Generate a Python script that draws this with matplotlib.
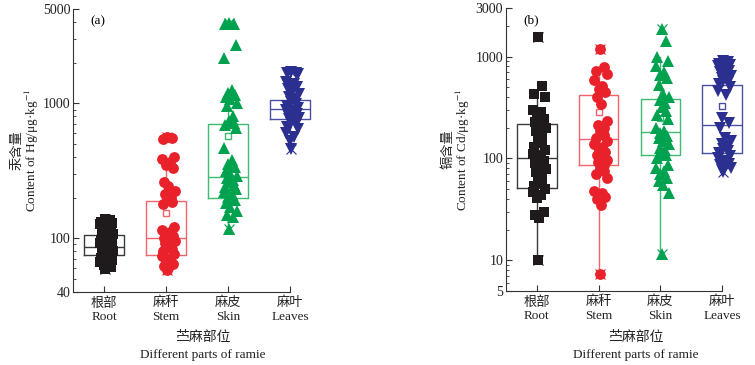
import matplotlib
matplotlib.use("Agg")
import matplotlib.pyplot as plt
from matplotlib import ticker as mticker

plt.rcParams['font.family'] = ['Liberation Serif', 'Noto Sans CJK SC', 'DejaVu Sans']
plt.rcParams['mathtext.fontset'] = 'stix'
plt.rcParams['font.size'] = 9

parts_cn = ['根部', '麻秆', '麻皮', '麻叶']
parts_en = ['Root', 'Stem', 'Skin', 'Leaves']

# Hg content (panel a), ug/kg
hg_root = [138, 136, 133, 130, 127, 124, 120, 117, 114, 111, 108, 105, 103, 101, 99, 97, 95,
           93, 91, 89, 87, 85, 83, 81, 79, 77, 75, 73, 71, 69, 67, 65, 63, 61, 59]
hg_stem = [560, 550, 540, 400, 385, 370, 350, 330, 262, 245, 225, 212, 198, 192, 185, 178,
           122, 116, 112, 108, 104, 101, 98, 95, 92, 89, 86, 83, 80, 77, 74, 71, 68, 65, 62, 60, 58]
hg_skin = [3950, 3900, 3850, 2700, 2150, 1250, 1200, 1150, 1120, 1080, 1000, 950, 800, 740,
           720, 690, 660, 470, 380, 355, 335, 315, 300, 290, 280, 270, 260, 250, 240, 230,
           222, 212, 202, 192, 182, 170, 160, 150, 145, 118]
hg_leaves = [1700, 1690, 1670, 1650, 1450, 1400, 1360, 1320, 1270, 1220, 1170, 1120, 1070,
             1020, 990, 960, 930, 900, 880, 860, 840, 820, 800, 780, 760, 740, 720, 700, 670,
             640, 600, 560, 530, 455]
hg_q1 = [75, 75, 198, 761]
hg_med = [86, 100, 283, 903]
hg_q3 = [105, 188, 700, 1052]
hg_mean = [92, 153, 570, 930]
hg_wlo = [59, 58, 118, 455]
hg_whi = [138, 330, 1250, 1450]

# Cd content (panel b), ug/kg
cd_root = [1550, 510, 425, 400, 300, 285, 265, 245, 228, 215, 200, 185, 170, 155, 142, 130,
           120, 110, 105, 100, 95, 90, 84, 78, 73, 68, 63, 58, 54, 50, 47, 44, 41, 30, 28, 26, 10]
cd_stem = [1200, 790, 720, 680, 590, 520, 480, 445, 400, 340, 235, 215, 200, 185, 170, 160,
           150, 140, 130, 122, 115, 108, 102, 97, 92, 87, 81, 76, 70, 65, 48, 46, 44, 42, 40,
           35, 7.4]
cd_skin = [1870, 1410, 1000, 900, 800, 700, 660, 610, 530, 430, 400, 375, 350, 320, 295, 270,
           245, 200, 188, 178, 168, 158, 148, 138, 128, 120, 114, 108, 100, 86, 80, 75, 70, 65,
           60, 55, 46, 11.5]
cd_leaves = [900, 880, 850, 820, 800, 780, 750, 720, 700, 680, 650, 620, 600, 580, 560, 540,
             500, 460, 420, 250, 225, 200, 160, 150, 140, 132, 125, 118, 112, 106, 100, 95, 92,
             89, 86, 83, 80, 77, 74]
cd_q1 = [51, 87, 107, 112]
cd_med = [100, 157, 181, 214]
cd_q3 = [219, 417, 385, 528]
cd_mean = [130, 283, 250, 331]
cd_wlo = [10, 7.4, 11.5, 74]
cd_whi = [425, 790, 1000, 900]

colors = ['#1f1b1c', '#e8212a', '#00a24f', '#2b2f8f']
box_colors = ['#3a3a3a', '#f0646a', '#3dbb70', '#4a4fa3']
markers = ['s', 'o', '^', 'v']
msizes = [7.0, 7.8, 8.4, 8.4]
JITTER = [0.02, 0.09, -0.05, 0.13, -0.07, 0.06, 0.0, 0.11, -0.03, 0.04, 0.14, -0.01, 0.08]


def draw(ax, groups, q1, med, q3, mean, wlo, whi):
    for i, vals in enumerate(groups):
        pos = i + 1
        bc = box_colors[i]
        st = [dict(q1=q1[i], med=med[i], q3=q3[i], whislo=wlo[i], whishi=whi[i],
                   mean=mean[i], fliers=[])]
        ax.bxp(st, positions=[pos], widths=0.64, showmeans=True, showcaps=False,
               showfliers=False, manage_ticks=False, zorder=2,
               boxprops=dict(color=bc, linewidth=1.0),
               medianprops=dict(color=bc, linewidth=1.0),
               whiskerprops=dict(color=bc, linewidth=1.0),
               meanprops=dict(marker='s', markerfacecolor='white', markeredgecolor=bc,
                              markersize=4.5, markeredgewidth=1.0, linestyle='none'))
        xs = [pos + JITTER[k % len(JITTER)] for k in range(len(vals))]
        xs[0] = pos + 0.02
        xs[-1] = pos + 0.02
        ax.plot(xs, vals, ls='none', marker=markers[i], ms=msizes[i], color=colors[i],
                mew=0, zorder=3)
        ax.plot([pos + 0.02, pos + 0.02], [min(vals), max(vals)], ls='none', marker='x',
                ms=6.5, mew=0.8, color=colors[i], zorder=4)

    ax.set_yscale('log')
    ax.set_xlim(0.5, 4.5)
    ax.spines['top'].set_visible(False)
    ax.spines['right'].set_visible(False)
    ax.spines['bottom'].set_bounds(0.5, 4)
    for s in ['left', 'bottom']:
        ax.spines[s].set_linewidth(0.8)
        ax.spines[s].set_color('#333333')
    ax.set_xticks([1, 2, 3, 4])
    ax.set_xticklabels([f"{c}\n{e}" for c, e in zip(parts_cn, parts_en)], linespacing=1.2)
    ax.tick_params(axis='x', direction='in', length=4, width=0.8, pad=3.5, colors='#333333',
                   labelcolor='#222222', labelsize=9.5)
    ax.tick_params(axis='y', which='major', direction='in', length=4, width=0.8, pad=2,
                   colors='#333333', labelcolor='#222222', labelsize=10)
    ax.tick_params(axis='y', which='minor', direction='in', length=2.2, width=0.6,
                   colors='#333333')
    ax.yaxis.set_minor_locator(mticker.LogLocator(base=10, subs=range(2, 10), numticks=20))
    ax.yaxis.set_minor_formatter(mticker.NullFormatter())


fig = plt.figure(figsize=(7.55, 3.65), dpi=100)
ax_a = fig.add_axes([73 / 755, 73 / 365, 248 / 755, 283 / 365])
ax_b = fig.add_axes([506 / 755, 74 / 365, 247 / 755, 283 / 365])

draw(ax_a, [hg_root, hg_stem, hg_skin, hg_leaves], hg_q1, hg_med, hg_q3, hg_mean, hg_wlo, hg_whi)
ax_a.set_ylim(40, 5000)
ax_a.yaxis.set_major_locator(mticker.FixedLocator([40, 100, 1000, 5000]))
ax_a.yaxis.set_major_formatter(mticker.FixedFormatter(['40', '100', '1000', '5000']))
ax_a.set_ylabel("汞含量\nContent of Hg/μg·kg$^{-1}$", fontsize=9.5, linespacing=0.95,
                color='#222222')
ax_a.yaxis.set_label_coords(-0.128, 0.5)
ax_a.text(0.1, 0.955, "(a)", transform=ax_a.transAxes, ha='center', va='center', fontsize=9.5)

draw(ax_b, [cd_root, cd_stem, cd_skin, cd_leaves], cd_q1, cd_med, cd_q3, cd_mean, cd_wlo, cd_whi)
ax_b.set_ylim(5, 3000)
ax_b.yaxis.set_major_locator(mticker.FixedLocator([5, 10, 100, 1000, 3000]))
ax_b.yaxis.set_major_formatter(mticker.FixedFormatter(['5', '10', '100', '1000', '3000']))
ax_b.set_ylabel("镉含量\nContent of Cd/μg·kg$^{-1}$", fontsize=9.5, linespacing=0.95,
                color='#222222')
ax_b.yaxis.set_label_coords(-0.138, 0.5)
ax_b.text(0.1, 0.955, "(b)", transform=ax_b.transAxes, ha='center', va='center', fontsize=9.5)

for xc in [203, 636]:
    fig.text(xc / 755, 1 - 338 / 365, "苎麻部位", ha='center', va='center', fontsize=10,
             color='#222222')
    fig.text(xc / 755, 1 - 355 / 365, "Different parts of ramie", ha='center', va='center',
             fontsize=9.5, color='#222222')

fig.savefig("out.png", dpi=100)
